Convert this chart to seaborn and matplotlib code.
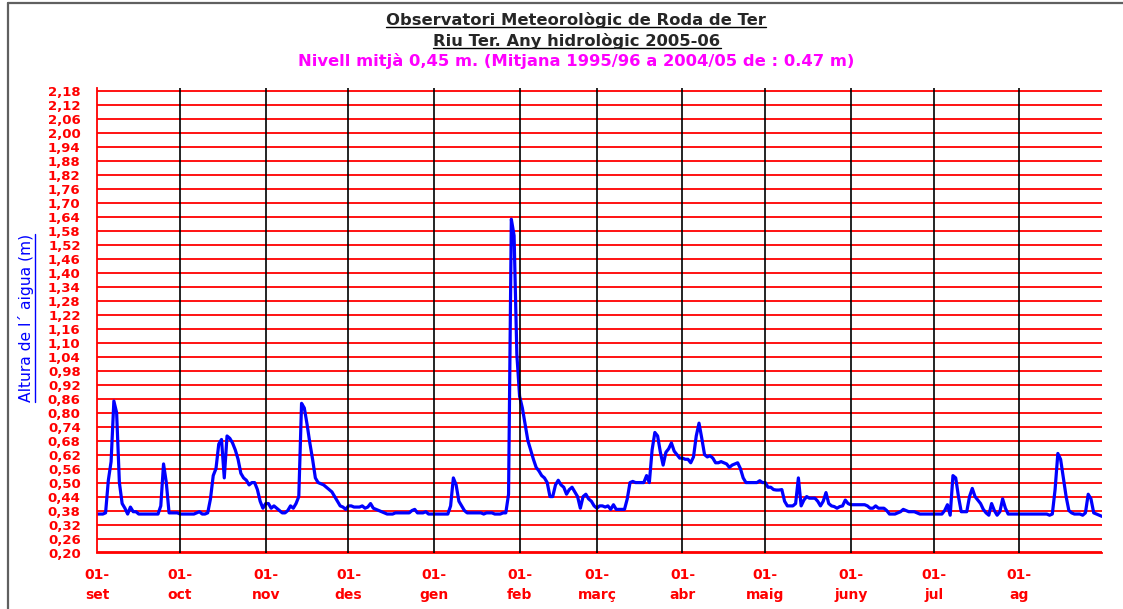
import numpy as np
import pandas as pd
import seaborn as sns
import matplotlib.pyplot as plt
from matplotlib.lines import Line2D

# Nivell diari del riu Ter (m), any hidrologic 2005-06 (llegit del grafic)
setembre = [0.365, 0.365, 0.365, 0.37, 0.51, 0.59, 0.85, 0.80, 0.50, 0.41,
            0.39, 0.365, 0.395, 0.375, 0.375, 0.365, 0.365, 0.365, 0.365, 0.365,
            0.365, 0.365, 0.365, 0.40, 0.58, 0.50, 0.37, 0.37, 0.37, 0.37]
octubre = [0.365, 0.365, 0.365, 0.365, 0.365, 0.365, 0.37, 0.375, 0.365, 0.365,
           0.37, 0.43, 0.53, 0.56, 0.665, 0.685, 0.52, 0.70, 0.69, 0.67,
           0.64, 0.60, 0.54, 0.52, 0.51, 0.49, 0.50, 0.50, 0.47, 0.42, 0.39]
novembre = [0.41, 0.41, 0.39, 0.40, 0.39, 0.38, 0.37, 0.37, 0.38, 0.40,
            0.39, 0.41, 0.44, 0.84, 0.82, 0.75, 0.67, 0.60, 0.52, 0.50,
            0.495, 0.49, 0.48, 0.47, 0.46, 0.44, 0.42, 0.40, 0.395, 0.385]
desembre = [0.40, 0.40, 0.395, 0.395, 0.395, 0.40, 0.39, 0.395, 0.41, 0.39,
            0.385, 0.38, 0.375, 0.37, 0.365, 0.365, 0.365, 0.37, 0.37, 0.37,
            0.37, 0.37, 0.37, 0.38, 0.385, 0.37, 0.37, 0.37, 0.375, 0.365, 0.365]
gener = [0.365, 0.365, 0.365, 0.365, 0.365, 0.365, 0.40, 0.52, 0.49, 0.42,
         0.40, 0.38, 0.37, 0.37, 0.37, 0.37, 0.37, 0.37, 0.365, 0.37,
         0.37, 0.37, 0.365, 0.365, 0.365, 0.37, 0.37, 0.45, 1.63, 1.56, 1.05]
febrer = [0.87, 0.82, 0.75, 0.68, 0.64, 0.60, 0.565, 0.55, 0.53, 0.52,
          0.50, 0.44, 0.44, 0.49, 0.51, 0.49, 0.48, 0.45, 0.47, 0.48,
          0.46, 0.44, 0.39, 0.44, 0.45, 0.43, 0.42, 0.40]
marc = [0.39, 0.40, 0.40, 0.395, 0.40, 0.385, 0.405, 0.385, 0.385, 0.385,
        0.385, 0.43, 0.50, 0.505, 0.50, 0.50, 0.50, 0.50, 0.53, 0.50,
        0.64, 0.715, 0.70, 0.63, 0.575, 0.63, 0.645, 0.67, 0.635, 0.62, 0.605]
abril = [0.605, 0.60, 0.60, 0.585, 0.61, 0.70, 0.755, 0.69, 0.62, 0.61,
         0.615, 0.605, 0.585, 0.585, 0.59, 0.585, 0.58, 0.565, 0.575, 0.58,
         0.585, 0.56, 0.52, 0.50, 0.50, 0.50, 0.50, 0.50, 0.508, 0.50]
maig = [0.50, 0.48, 0.48, 0.47, 0.468, 0.468, 0.47, 0.42, 0.40, 0.40,
        0.40, 0.41, 0.52, 0.40, 0.425, 0.44, 0.433, 0.433, 0.433, 0.42,
        0.40, 0.42, 0.457, 0.41, 0.40, 0.397, 0.39, 0.397, 0.40, 0.425, 0.41]
juny = [0.405, 0.405, 0.405, 0.405, 0.405, 0.405, 0.40, 0.39, 0.39, 0.40,
        0.39, 0.39, 0.39, 0.38, 0.365, 0.365, 0.365, 0.37, 0.375, 0.385,
        0.38, 0.375, 0.375, 0.375, 0.37, 0.365, 0.365, 0.365, 0.365, 0.365]
juliol = [0.365, 0.365, 0.365, 0.365, 0.38, 0.405, 0.36, 0.53, 0.52, 0.44,
          0.375, 0.375, 0.375, 0.44, 0.475, 0.44, 0.425, 0.41, 0.385, 0.37,
          0.36, 0.41, 0.38, 0.36, 0.375, 0.43, 0.39, 0.365, 0.365, 0.365, 0.365]
agost = [0.365, 0.365, 0.365, 0.365, 0.365, 0.365, 0.365, 0.365, 0.365, 0.365,
         0.365, 0.36, 0.365, 0.47, 0.625, 0.60, 0.52, 0.44, 0.38, 0.37,
         0.365, 0.365, 0.365, 0.36, 0.37, 0.45, 0.43, 0.37, 0.365, 0.36, 0.355]

mesos = ['set', 'oct', 'nov', 'des', 'gen', 'feb', 'març', 'abr', 'maig', 'juny', 'jul', 'ag']

titol1 = "Observatori Meteorològic de Roda de Ter"
titol2 = "Riu Ter. Any hidrològic 2005-06"
titol3 = "Nivell mitjà 0,45 m. (Mitjana 1995/96 a 2004/05 de : 0.47 m)"
etiqueta_y = "Altura de l´ aigua (m)"

nivell = (setembre + octubre + novembre + desembre + gener + febrer + marc
          + abril + maig + juny + juliol + agost)
dies = pd.date_range('2005-09-01', periods=len(nivell), freq='D')
df = pd.DataFrame({'Data': dies, 'Nivell': nivell})

sns.set_style('white')
plt.rcParams['font.family'] = ['DejaVu Sans']

W, H = 1123, 609
fig = plt.figure(figsize=(W / 100, H / 100), dpi=100)
ax = fig.add_axes([97.3 / W, 1 - 552.5 / H, (1102 - 97.3) / W, (552.5 - 88) / H])

vermell = '#ff0000'
yticks = np.round(0.20 + 0.06 * np.arange(34), 2)
for v in yticks:
    ax.axhline(v, color=vermell, lw=1.3, zorder=1)

sns.lineplot(data=df, x='Data', y='Nivell', color='#0000ff', lw=2.3, ax=ax, zorder=2)

inicis = pd.date_range('2005-09-01', periods=12, freq='MS')
for d in inicis[1:]:
    ax.axvline(d, color='black', lw=1.2, zorder=3)

ax.set_xlim(dies[0], dies[-1])
ax.set_ylim(0.20, 2.193)

ax.set_yticks(yticks)
ax.set_yticklabels([f"{v:.2f}".replace('.', ',') for v in yticks])
ax.set_xticks(inicis)
ax.set_xticklabels([f"01-\n{m}" for m in mesos], linespacing=1.55)

ax.tick_params(axis='both', colors=vermell, labelcolor=vermell, width=1.2, labelsize=9.5)
ax.tick_params(axis='y', length=3, pad=9)
ax.tick_params(axis='x', length=4, pad=7, labelsize=10)
for lbl in ax.get_xticklabels() + ax.get_yticklabels():
    lbl.set_fontweight('bold')

for s in ['top', 'right']:
    ax.spines[s].set_visible(False)
for s in ['left', 'bottom']:
    ax.spines[s].set_color(vermell)
    ax.spines[s].set_linewidth(1.3)
ax.set_xlabel('')
ax.set_ylabel('')

t1 = fig.text(576 / W, 1 - 20 / H, titol1, ha='center', va='center', fontsize=11.8, fontweight='bold')
t2 = fig.text(577 / W, 1 - 41 / H, titol2, ha='center', va='center', fontsize=11.8, fontweight='bold')
t3 = fig.text(576 / W, 1 - 61 / H, titol3, ha='center', va='center', fontsize=11.8,
              fontweight='bold', color='#ff00ff')
ty = fig.text(26 / W, 1 - 318 / H, etiqueta_y, ha='center', va='center', rotation=90,
              fontsize=11.2, color='#0000ff')

# subratllats
fig.canvas.draw()
for t in (t1, t2):
    bb = t.get_window_extent()
    fig.add_artist(Line2D([bb.x0 / W, bb.x1 / W], [(bb.y0 + 1) / H] * 2,
                          transform=fig.transFigure, color='black', lw=1))
bb = ty.get_window_extent()
fig.add_artist(Line2D([(bb.x1 + 1) / W] * 2, [bb.y0 / H, bb.y1 / H],
                      transform=fig.transFigure, color='#0000ff', lw=1))

# marc de la imatge
fig.add_artist(Line2D([7.5 / W, 1], [1 - 2.5 / H] * 2, transform=fig.transFigure, color='#606060', lw=1.6))
fig.add_artist(Line2D([7.5 / W] * 2, [0, 1 - 2.5 / H], transform=fig.transFigure, color='#606060', lw=1.6))

fig.savefig('out.png', dpi=100)
